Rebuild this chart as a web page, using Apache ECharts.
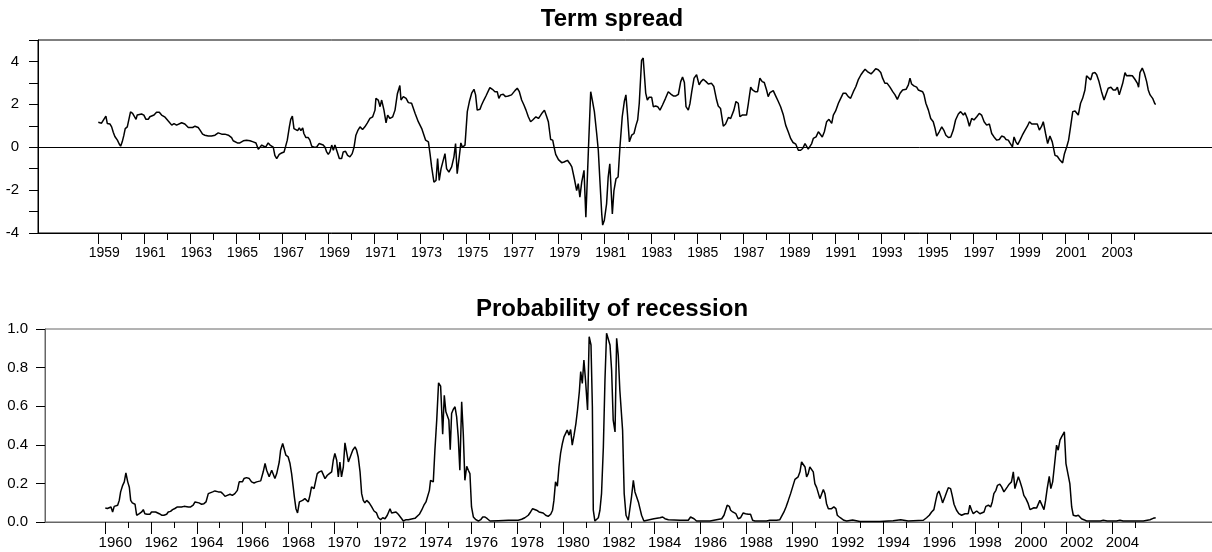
<!DOCTYPE html>
<html><head><meta charset="utf-8">
<script src="https://cdn.jsdelivr.net/npm/echarts@6/dist/echarts.min.js"></script>
<style>html,body{margin:0;padding:0;background:#fff}#c{width:1212px;height:552px}</style>
</head><body><div id="c"></div>
<script>
const spreadTitle = 'Term spread';
const probTitle = 'Probability of recession';

const spreadLabelYears = [1959,1961,1963,1965,1967,1969,1971,1973,1975,1977,1979,1981,1983,1985,1987,1989,1991,1993,1995,1997,1999,2001,2003];
const spreadMinorYears = [1960,1962,1964,1966,1968,1970,1972,1974,1976,1978,1980,1982,1984,1986,1988,1990,1992,1994,1996,1998,2000,2002,2004];
const probLabelYears = [1960,1962,1964,1966,1968,1970,1972,1974,1976,1978,1980,1982,1984,1986,1988,1990,1992,1994,1996,1998,2000,2002,2004];
const probMinorYears = [1961,1963,1965,1967,1969,1971,1973,1975,1977,1979,1981,1983,1985,1987,1989,1991,1993,1995,1997,1999,2001,2003,2005];

const termSpread = [
[1959.00,1.16],[1959.14,1.12],[1959.22,1.10],[1959.33,1.45],[1959.39,1.11],[1959.51,1.08],[1959.58,0.95],[1959.65,0.70],[1959.72,0.50],[1959.83,0.33],[1959.91,0.15],[1959.97,0.05],
[1960.04,0.25],[1960.11,0.55],[1960.17,0.87],[1960.26,0.95],[1960.33,1.00],[1960.40,1.65],[1960.49,1.58],[1960.56,1.50],[1960.64,1.30],[1960.69,1.50],[1960.75,1.55],[1960.88,1.55],[1960.98,1.50],
[1961.07,1.30],[1961.17,1.30],[1961.24,1.42],[1961.32,1.34],[1961.42,1.50],[1961.53,1.63],[1961.65,1.63],[1961.75,1.50],[1961.90,1.40],
[1962.04,1.22],[1962.19,1.03],[1962.29,1.10],[1962.40,1.03],[1962.62,1.14],[1962.76,1.08],[1962.91,0.92],[1962.98,0.83],
[1963.10,0.92],[1963.20,0.98],[1963.34,0.92],[1963.42,0.80],[1963.53,0.61],[1963.63,0.56],[1963.78,0.52],[1963.92,0.52],
[1964.07,0.56],[1964.21,0.67],[1964.36,0.61],[1964.50,0.61],[1964.65,0.56],[1964.79,0.45],[1964.86,0.30],[1964.94,0.25],
[1965.04,0.20],[1965.15,0.20],[1965.30,0.30],[1965.44,0.33],[1965.59,0.30],[1965.73,0.25],[1965.85,0.20],[1965.95,-0.10],
[1966.10,0.10],[1966.17,0.14],[1966.27,0.00],[1966.38,0.20],[1966.46,0.10],[1966.53,0.12],[1966.60,0.00],[1966.67,-0.38],[1966.75,-0.53],[1966.86,-0.33],[1966.96,-0.27],
[1967.07,-0.22],[1967.14,0.05],[1967.21,0.33],[1967.30,0.95],[1967.36,1.30],[1967.43,1.45],[1967.50,0.87],[1967.57,0.87],[1967.66,0.77],[1967.73,0.90],[1967.80,0.77],[1967.88,0.90],[1967.93,0.64],
[1968.02,0.45],[1968.12,0.45],[1968.19,0.33],[1968.27,0.05],[1968.37,0.00],[1968.48,0.00],[1968.59,0.17],[1968.66,0.10],[1968.77,0.10],[1968.85,0.00],[1968.92,-0.22],[1968.99,-0.33],
[1969.06,-0.22],[1969.14,0.10],[1969.21,-0.14],[1969.28,0.10],[1969.38,-0.22],[1969.47,-0.53],[1969.57,-0.53],[1969.64,-0.22],[1969.74,-0.19],[1969.83,-0.38],[1969.93,-0.45],
[1970.03,-0.30],[1970.11,0.00],[1970.19,0.56],[1970.27,0.77],[1970.37,0.95],[1970.48,0.83],[1970.58,0.95],[1970.69,1.14],[1970.80,1.34],[1970.92,1.42],
[1971.02,1.73],[1971.06,2.28],[1971.16,2.20],[1971.24,1.89],[1971.31,2.20],[1971.41,1.73],[1971.50,1.14],[1971.57,1.50],[1971.67,1.34],[1971.79,1.42],[1971.89,1.73],[1971.99,2.48],
[1972.10,2.88],[1972.15,2.20],[1972.25,2.36],[1972.37,2.28],[1972.47,2.08],[1972.61,2.05],[1972.76,1.58],[1972.90,1.19],
[1973.05,0.87],[1973.12,0.80],[1973.22,0.33],[1973.34,0.25],[1973.41,-0.30],[1973.48,-0.92],[1973.58,-1.63],[1973.67,-1.55],[1973.74,-0.53],[1973.81,-1.55],[1973.89,-1.00],[1973.96,-1.08],
[1974.06,-0.30],[1974.13,-1.00],[1974.23,-1.16],[1974.35,-0.92],[1974.45,-0.45],[1974.52,0.17],[1974.59,-1.23],[1974.68,-0.45],[1974.75,0.20],[1974.82,0.00],[1974.93,0.10],
[1975.03,1.66],[1975.12,2.13],[1975.22,2.52],[1975.32,2.70],[1975.39,2.44],[1975.46,1.73],[1975.58,1.77],[1975.65,1.97],[1975.75,2.20],[1975.84,2.39],[1975.90,2.44],
[1976.01,2.78],[1976.12,2.70],[1976.23,2.59],[1976.33,2.59],[1976.40,2.28],[1976.48,2.44],[1976.59,2.47],[1976.69,2.36],[1976.81,2.39],[1976.95,2.44],
[1977.10,2.64],[1977.20,2.75],[1977.29,2.59],[1977.39,2.20],[1977.49,1.97],[1977.58,1.73],[1977.68,1.42],[1977.78,1.19],[1977.87,1.27],[1977.94,1.34],
[1978.01,1.42],[1978.12,1.34],[1978.19,1.45],[1978.29,1.61],[1978.38,1.73],[1978.48,1.42],[1978.55,1.19],[1978.65,0.36],[1978.74,0.33],[1978.80,0.00],[1978.87,-0.33],[1978.99,-0.58],
[1979.13,-0.72],[1979.23,-0.69],[1979.31,-0.77],[1979.38,-0.61],[1979.49,-0.77],[1979.57,-0.92],[1979.68,-1.47],[1979.78,-2.02],[1979.85,-1.70],[1979.92,-2.33],
[1980.00,-1.63],[1980.10,-1.08],[1980.18,-3.27],[1980.29,-0.14],[1980.39,2.59],[1980.46,2.20],[1980.55,1.66],[1980.65,0.64],[1980.72,-0.14],[1980.79,-1.55],[1980.87,-3.11],[1980.91,-3.63],[1980.98,-3.42],
[1981.08,-2.64],[1981.15,-1.39],[1981.22,-0.77],[1981.25,-0.69],[1981.33,-3.11],[1981.40,-2.02],[1981.49,-1.47],[1981.58,-1.39],[1981.66,0.00],[1981.76,1.42],[1981.85,2.13],[1981.92,2.44],[1981.99,1.50],
[1982.07,0.25],[1982.17,0.56],[1982.27,0.64],[1982.36,1.03],[1982.43,1.27],[1982.50,2.05],[1982.60,4.05],[1982.67,4.16],[1982.78,2.52],[1982.85,2.20],[1982.93,2.33],
[1983.04,2.33],[1983.11,1.89],[1983.21,1.92],[1983.30,1.89],[1983.40,1.73],[1983.51,1.97],[1983.64,2.28],[1983.76,2.59],[1983.87,2.48],[1983.98,2.39],
[1984.09,2.39],[1984.20,2.47],[1984.30,3.06],[1984.38,3.27],[1984.46,3.02],[1984.53,1.89],[1984.63,1.73],[1984.70,2.02],[1984.78,2.59],[1984.88,3.22],[1984.99,3.38],
[1985.10,2.91],[1985.18,3.06],[1985.28,3.17],[1985.40,3.06],[1985.50,2.95],[1985.64,2.98],[1985.74,2.83],[1985.86,2.20],[1985.93,1.92],
[1986.03,1.81],[1986.15,0.98],[1986.25,1.08],[1986.37,1.39],[1986.47,1.34],[1986.54,1.42],[1986.61,1.73],[1986.70,2.13],[1986.80,2.05],[1986.87,1.42],[1986.97,1.50],
[1987.16,1.50],[1987.24,2.05],[1987.34,2.80],[1987.42,2.67],[1987.53,2.59],[1987.64,2.59],[1987.74,3.22],[1987.84,3.06],[1987.93,3.02],
[1988.03,2.67],[1988.10,2.36],[1988.18,2.55],[1988.32,2.64],[1988.44,2.36],[1988.54,2.13],[1988.64,1.89],[1988.76,1.50],[1988.86,1.03],[1988.97,0.72],
[1989.08,0.40],[1989.18,0.22],[1989.30,0.14],[1989.41,-0.14],[1989.51,-0.14],[1989.60,-0.06],[1989.70,0.17],[1989.77,0.10],[1989.84,-0.09],[1989.92,-0.06],[1989.99,0.17],
[1990.06,0.41],[1990.18,0.48],[1990.28,0.72],[1990.35,0.72],[1990.45,0.48],[1990.54,0.72],[1990.64,1.19],[1990.74,1.30],[1990.86,1.11],[1990.93,1.50],
[1991.03,1.69],[1991.15,2.05],[1991.25,2.28],[1991.36,2.52],[1991.47,2.52],[1991.58,2.36],[1991.68,2.28],[1991.80,2.59],[1991.91,2.83],
[1992.01,3.14],[1992.13,3.38],[1992.23,3.53],[1992.31,3.64],[1992.41,3.53],[1992.49,3.56],[1992.57,3.42],[1992.67,3.53],[1992.77,3.66],[1992.88,3.61],[1992.99,3.48],
[1993.07,3.22],[1993.17,2.98],[1993.27,2.98],[1993.39,2.80],[1993.51,2.59],[1993.61,2.44],[1993.71,2.23],[1993.83,2.52],[1993.94,2.67],
[1994.09,2.70],[1994.19,2.91],[1994.26,3.22],[1994.33,2.95],[1994.43,2.86],[1994.55,2.80],[1994.62,2.67],[1994.69,2.70],[1994.81,2.59],[1994.87,2.44],[1994.95,2.05],
[1995.06,1.73],[1995.16,1.34],[1995.27,1.19],[1995.35,0.87],[1995.42,0.52],[1995.53,0.72],[1995.64,0.95],[1995.74,0.77],[1995.82,0.56],[1995.93,0.45],
[1996.03,0.48],[1996.14,0.80],[1996.24,1.27],[1996.36,1.55],[1996.46,1.66],[1996.58,1.50],[1996.65,1.61],[1996.75,1.34],[1996.84,0.98],[1996.94,1.34],
[1997.04,1.27],[1997.16,1.42],[1997.27,1.58],[1997.37,1.50],[1997.48,1.19],[1997.59,1.03],[1997.71,1.08],[1997.81,0.64],[1997.91,0.48],
[1998.03,0.33],[1998.14,0.36],[1998.24,0.52],[1998.35,0.48],[1998.43,0.36],[1998.53,0.33],[1998.60,0.20],[1998.71,0.02],[1998.78,0.48],[1998.86,0.25],[1998.94,0.12],
[1999.04,0.33],[1999.14,0.56],[1999.26,0.80],[1999.36,0.98],[1999.45,1.19],[1999.55,1.08],[1999.79,1.08],[1999.88,0.80],[1999.98,0.98],
[2000.05,1.19],[2000.15,0.64],[2000.24,0.17],[2000.34,0.52],[2000.44,0.25],[2000.56,-0.38],[2000.66,-0.42],[2000.78,-0.61],[2000.89,-0.73],[2000.97,-0.30],
[2001.07,0.02],[2001.15,0.33],[2001.24,0.98],[2001.33,1.66],[2001.43,1.69],[2001.57,1.50],[2001.67,2.05],[2001.76,2.28],[2001.86,2.67],[2001.93,3.33],
[2002.01,3.33],[2002.11,3.14],[2002.19,3.45],[2002.30,3.48],[2002.37,3.38],[2002.47,3.06],[2002.58,2.59],[2002.69,2.20],[2002.77,2.28],[2002.87,2.75],[2002.99,2.80],
[2003.09,2.67],[2003.19,2.67],[2003.27,2.80],[2003.35,2.44],[2003.41,2.36],[2003.50,2.98],[2003.60,3.48],[2003.67,3.33],[2003.79,3.34],[2003.92,3.33],
[2004.03,3.17],[2004.14,2.98],[2004.19,2.80],[2004.25,3.48],[2004.35,3.69],[2004.44,3.45],[2004.54,3.06],[2004.61,2.67],[2004.69,2.44],[2004.80,2.28],[2004.90,2.02],[2004.94,2.00]
];

const recessionProb = [
[1960.00,0.073],[1960.09,0.070],[1960.17,0.078],[1960.25,0.078],[1960.32,0.052],[1960.39,0.081],[1960.47,0.073],[1960.54,0.087],[1960.61,0.112],[1960.67,0.156],[1960.76,0.190],[1960.83,0.208],[1960.90,0.254],[1960.98,0.208],
[1961.05,0.180],[1961.11,0.112],[1961.18,0.099],[1961.30,0.092],[1961.37,0.035],[1961.49,0.043],[1961.59,0.052],[1961.66,0.064],[1961.73,0.043],[1961.83,0.040],[1961.95,0.040],
[1962.02,0.052],[1962.10,0.061],[1962.20,0.052],[1962.27,0.052],[1962.36,0.043],[1962.46,0.035],[1962.56,0.035],[1962.68,0.040],[1962.75,0.052],[1962.85,0.055],[1962.94,0.064],
[1963.04,0.070],[1963.15,0.078],[1963.23,0.087],[1963.33,0.078],[1963.44,0.081],[1963.52,0.087],[1963.63,0.078],[1963.73,0.078],[1963.84,0.087],[1963.92,0.104],[1963.99,0.109],
[1964.09,0.099],[1964.21,0.092],[1964.31,0.095],[1964.40,0.104],[1964.50,0.147],[1964.57,0.147],[1964.69,0.156],[1964.79,0.161],[1964.86,0.160],[1964.94,0.156],
[1965.04,0.156],[1965.13,0.147],[1965.23,0.133],[1965.33,0.138],[1965.45,0.144],[1965.55,0.138],[1965.66,0.147],[1965.77,0.164],[1965.85,0.208],[1965.91,0.216],[1965.99,0.208],
[1966.06,0.225],[1966.17,0.230],[1966.29,0.225],[1966.39,0.208],[1966.50,0.202],[1966.61,0.208],[1966.68,0.216],[1966.79,0.213],[1966.90,0.260],[1966.98,0.303],
[1967.05,0.268],[1967.16,0.234],[1967.27,0.268],[1967.34,0.268],[1967.41,0.225],[1967.49,0.251],[1967.56,0.242],[1967.60,0.311],[1967.66,0.372],[1967.75,0.407],[1967.81,0.381],[1967.89,0.346],[1967.99,0.337],
[1968.07,0.303],[1968.14,0.251],[1968.21,0.182],[1968.26,0.130],[1968.33,0.069],[1968.40,0.047],[1968.48,0.104],[1968.55,0.095],[1968.62,0.112],[1968.72,0.121],[1968.80,0.112],[1968.87,0.104],[1968.94,0.138],
[1969.01,0.182],[1969.12,0.173],[1969.20,0.182],[1969.26,0.251],[1969.35,0.260],[1969.45,0.265],[1969.52,0.260],[1969.60,0.225],[1969.70,0.242],[1969.79,0.251],[1969.89,0.260],[1969.96,0.320],
[1970.03,0.355],[1970.11,0.320],[1970.18,0.234],[1970.25,0.311],[1970.32,0.234],[1970.40,0.285],[1970.47,0.410],[1970.54,0.410],[1970.62,0.311],[1970.69,0.306],[1970.81,0.372],[1970.91,0.389],[1970.98,0.372],
[1971.05,0.337],[1971.13,0.260],[1971.20,0.147],[1971.27,0.112],[1971.34,0.099],[1971.42,0.112],[1971.53,0.099],[1971.64,0.078],[1971.74,0.057],[1971.85,0.047],[1971.93,0.022],
[1972.03,0.012],[1972.12,0.022],[1972.22,0.017],[1972.32,0.035],[1972.44,0.069],[1972.51,0.047],[1972.58,0.052],[1972.70,0.052],[1972.80,0.040],[1972.87,0.035],[1972.95,0.017],
[1973.02,0.005],[1973.14,0.012],[1973.24,0.012],[1973.38,0.016],[1973.53,0.019],[1973.60,0.026],[1973.72,0.040],[1973.82,0.061],[1973.92,0.087],
[1974.01,0.104],[1974.08,0.109],[1974.16,0.164],[1974.21,0.216],[1974.29,0.225],[1974.33,0.208],[1974.40,0.372],[1974.48,0.528],[1974.56,0.721],[1974.65,0.704],[1974.69,0.597],[1974.74,0.455],[1974.81,0.657],[1974.88,0.571],[1974.96,0.580],
[1975.01,0.528],[1975.07,0.375],[1975.13,0.562],[1975.20,0.583],[1975.28,0.597],[1975.35,0.545],[1975.42,0.441],[1975.49,0.268],[1975.57,0.623],[1975.64,0.458],[1975.71,0.216],[1975.79,0.289],[1975.86,0.268],[1975.93,0.251],
[1976.00,0.078],[1976.08,0.026],[1976.19,0.012],[1976.30,0.005],[1976.40,0.012],[1976.49,0.026],[1976.59,0.026],[1976.69,0.017],[1976.81,0.005],
[1977.17,0.007],[1977.61,0.009],[1978.04,0.009],[1978.19,0.014],[1978.33,0.022],[1978.48,0.035],[1978.58,0.052],[1978.67,0.069],[1978.74,0.069],[1978.84,0.061],[1978.95,0.052],
[1979.02,0.057],[1979.13,0.047],[1979.24,0.035],[1979.35,0.029],[1979.46,0.040],[1979.54,0.061],[1979.60,0.112],[1979.67,0.208],[1979.75,0.185],[1979.82,0.285],[1979.89,0.355],[1979.97,0.407],
[1980.04,0.441],[1980.11,0.433],[1980.18,0.476],[1980.26,0.450],[1980.33,0.479],[1980.40,0.398],[1980.48,0.450],[1980.56,0.510],[1980.63,0.580],[1980.71,0.675],[1980.77,0.779],[1980.84,0.718],[1980.91,0.839],[1980.98,0.735],
[1981.07,0.580],[1981.14,0.960],[1981.22,0.917],[1981.28,0.597],[1981.32,0.061],[1981.39,0.005],[1981.47,0.005],[1981.54,0.022],[1981.61,0.061],[1981.68,0.147],[1981.76,0.389],[1981.83,0.735],[1981.90,0.978],[1981.97,0.969],
[1982.05,0.917],[1982.12,0.787],[1982.19,0.528],[1982.27,0.467],[1982.34,0.952],[1982.41,0.865],[1982.48,0.683],[1982.56,0.675],[1982.60,0.476],[1982.67,0.147],[1982.75,0.035],[1982.85,0.009],[1982.92,0.017],[1982.99,0.130],
[1983.07,0.216],[1983.14,0.156],[1983.21,0.147],[1983.29,0.104],[1983.36,0.069],[1983.43,0.035],[1983.53,0.005],[1983.77,0.012],[1983.97,0.017],
[1984.23,0.022],[1984.35,0.026],[1984.45,0.017],[1984.60,0.012],[1985.11,0.009],[1985.47,0.009],[1985.57,0.026],[1985.64,0.029],[1985.72,0.017],[1985.83,0.005],
[1986.42,0.005],[1986.93,0.017],[1987.03,0.035],[1987.10,0.061],[1987.17,0.087],[1987.26,0.081],[1987.32,0.061],[1987.41,0.052],[1987.48,0.061],[1987.55,0.043],[1987.65,0.017],[1987.75,0.022],[1987.87,0.047],[1987.97,0.043],
[1988.09,0.040],[1988.19,0.040],[1988.28,0.009],[1988.38,0.005],[1988.89,0.005],[1989.04,0.009],[1989.33,0.009],[1989.47,0.012],[1989.55,0.022],[1989.65,0.052],[1989.74,0.078],[1989.84,0.112],[1989.94,0.147],
[1990.03,0.182],[1990.13,0.221],[1990.20,0.225],[1990.27,0.234],[1990.35,0.260],[1990.42,0.311],[1990.49,0.303],[1990.57,0.285],[1990.64,0.234],[1990.71,0.251],[1990.78,0.285],[1990.86,0.294],[1990.93,0.260],
[1991.00,0.199],[1991.08,0.178],[1991.15,0.182],[1991.22,0.121],[1991.29,0.121],[1991.37,0.168],[1991.44,0.147],[1991.51,0.095],[1991.59,0.069],[1991.66,0.061],[1991.73,0.069],[1991.83,0.078],[1991.92,0.069],[1991.98,0.035],
[1992.07,0.026],[1992.17,0.017],[1992.27,0.009],[1992.39,0.005],[1992.65,0.010],[1992.97,0.003],[1993.84,0.003],[1994.42,0.007],[1994.75,0.012],[1995.08,0.005],[1995.74,0.009],[1995.88,0.022],
[1996.00,0.035],[1996.10,0.052],[1996.20,0.064],[1996.27,0.104],[1996.35,0.147],[1996.42,0.160],[1996.51,0.130],[1996.58,0.099],[1996.68,0.130],[1996.76,0.156],[1996.83,0.178],[1996.93,0.173],
[1997.00,0.138],[1997.08,0.092],[1997.19,0.061],[1997.29,0.043],[1997.41,0.035],[1997.48,0.035],[1997.56,0.043],[1997.63,0.035],[1997.70,0.043],[1997.77,0.087],[1997.85,0.061],[1997.92,0.043],[1997.99,0.052],
[1998.07,0.057],[1998.21,0.043],[1998.28,0.043],[1998.39,0.052],[1998.47,0.081],[1998.58,0.087],[1998.68,0.078],[1998.75,0.104],[1998.82,0.147],[1998.91,0.164],[1998.98,0.190],
[1999.08,0.196],[1999.16,0.182],[1999.26,0.156],[1999.33,0.164],[1999.41,0.182],[1999.49,0.196],[1999.59,0.208],[1999.67,0.260],[1999.74,0.173],[1999.81,0.202],[1999.89,0.234],[1999.96,0.211],
[2000.06,0.173],[2000.13,0.138],[2000.22,0.121],[2000.32,0.095],[2000.40,0.064],[2000.47,0.069],[2000.57,0.074],[2000.69,0.073],[2000.76,0.069],[2000.83,0.112],[2000.91,0.104],
[2001.01,0.064],[2001.08,0.112],[2001.15,0.173],[2001.24,0.237],[2001.31,0.173],[2001.39,0.208],[2001.46,0.285],[2001.56,0.398],[2001.63,0.372],[2001.71,0.424],[2001.78,0.441],[2001.90,0.467],[2001.97,0.303],
[2002.07,0.242],[2002.14,0.199],[2002.22,0.078],[2002.29,0.035],[2002.41,0.031],[2002.51,0.035],[2002.58,0.040],[2002.65,0.017],[2002.75,0.012],[2002.87,0.005],
[2003.48,0.005],[2003.60,0.009],[2003.67,0.014],[2003.77,0.005],[2004.18,0.005],[2004.33,0.009],[2004.47,0.005],[2005.35,0.005],[2005.64,0.012],[2005.78,0.019],[2005.89,0.022]
];

const FONT = "'Liberation Sans', Arial, Helvetica, sans-serif";
const chart = echarts.init(document.getElementById('c'), null, {renderer: 'canvas'});

function titleOpt(text, top) {
  return {text: text, left: 612, top: top, textAlign: 'center', padding: 0,
    textStyle: {fontFamily: FONT, fontWeight: 'bold', fontSize: 24, color: '#000'}};
}
function majorX(grid, min, max, vals, lineColor, fontSize, shift, tickLen) {
  return {type: 'value', gridIndex: grid, min: min, max: max, position: 'bottom',
    axisLine: {show: true, onZero: false, lineStyle: {color: lineColor, width: 1}},
    axisTick: {show: true, length: tickLen, customValues: vals, lineStyle: {color: '#000', width: 1}},
    axisLabel: {show: true, customValues: vals, margin: 13, fontSize: fontSize, fontFamily: FONT, color: '#000',
      padding: [0, 0, 0, shift], formatter: function (v) { return String(Math.round(v)); }},
    splitLine: {show: false}};
}
function minorX(grid, min, max, vals, tickLen) {
  return {type: 'value', gridIndex: grid, min: min, max: max, position: 'bottom',
    axisLine: {show: false, onZero: false},
    axisTick: {show: true, length: tickLen, customValues: vals, lineStyle: {color: '#000', width: 1}},
    axisLabel: {show: false}, splitLine: {show: false}};
}

const option = {
  animation: false,
  backgroundColor: '#fff',
  title: [titleOpt(spreadTitle, 7), titleOpt(probTitle, 297)],
  grid: [
    {left: 38, top: 40, width: 1180, height: 193, show: true, borderColor: '#000', borderWidth: 1, outerBoundsMode: 'none', containLabel: false},
    {left: 45, top: 329, width: 1175, height: 193, show: true, borderColor: '#666', borderWidth: 1, outerBoundsMode: 'none', containLabel: false}
  ],
  xAxis: [
    majorX(0, 1956.381, 2007.64, spreadLabelYears, '#000', 14, 12, 11),
    minorX(0, 1956.381, 2007.64, spreadMinorYears, 7),
    majorX(1, 1957.366, 2008.70, probLabelYears, '#666', 15, 20, 12),
    minorX(1, 1957.366, 2008.70, probMinorYears, 6)
  ],
  yAxis: [
    {type: 'value', gridIndex: 0, min: -4, max: 5, interval: 1,
      axisLine: {show: true, onZero: false, lineStyle: {color: '#000'}},
      axisTick: {show: true, length: 9, lineStyle: {color: '#000'}},
      axisLabel: {margin: 19, fontSize: 15, fontFamily: FONT, color: '#000',
        formatter: function (v) { return (Math.round(v) % 2 === 0) ? String(Math.round(v)) : ''; }},
      splitLine: {show: false}},
    {type: 'value', gridIndex: 1, min: 0, max: 1, interval: 0.2,
      axisLine: {show: true, onZero: false, lineStyle: {color: '#666'}},
      axisTick: {show: true, length: 9, lineStyle: {color: '#000'}},
      axisLabel: {margin: 17, fontSize: 15, fontFamily: FONT, color: '#000',
        formatter: function (v) { return v.toFixed(1); }},
      splitLine: {show: false}}
  ],
  series: [
    {type: 'line', xAxisIndex: 0, yAxisIndex: 0, data: termSpread, showSymbol: false, symbol: 'none',
      lineStyle: {color: '#000', width: 1.5}, emphasis: {disabled: true},
      markLine: {silent: true, symbol: ['none', 'none'], label: {show: false},
        lineStyle: {color: '#000', width: 1, type: 'solid'}, data: [{yAxis: 0}]}},
    {type: 'line', xAxisIndex: 2, yAxisIndex: 1, data: recessionProb, showSymbol: false, symbol: 'none',
      lineStyle: {color: '#000', width: 1.5}, emphasis: {disabled: true}}
  ]
};
chart.setOption(option);
</script>
</body></html>
